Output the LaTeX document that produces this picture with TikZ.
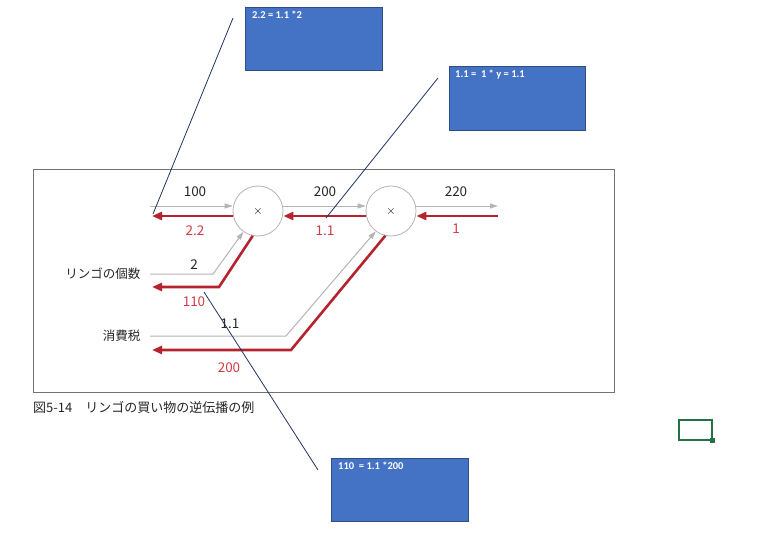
\documentclass[tikz,border=0pt]{standalone}
\usepackage{fontspec}
\setmainfont{Noto Sans CJK JP}
\newfontfamily\boxfont{Carlito}
\usetikzlibrary{arrows.meta}
\definecolor{fwdgray}{HTML}{B4B4B4}
\definecolor{bwdred}{HTML}{B5232E}
\definecolor{lblred}{HTML}{D23B45}
\definecolor{boxblue}{HTML}{4472C4}
\definecolor{boxedge}{HTML}{2F4F80}
\definecolor{navy}{HTML}{1F3464}
\definecolor{xlgreen}{HTML}{217346}
\tikzset{
  mulnode/.style={circle, draw=fwdgray, line width=0.8pt, minimum size=50pt, inner sep=0pt, font=\fontsize{13}{13}\selectfont},
  fwd/.style={draw=fwdgray, line width=1pt, -{Triangle[length=8pt,width=5pt,fill=fwdgray]}},
  bwd/.style={draw=bwdred, line width=2.6pt, -{Triangle[length=10pt,width=8pt,fill=bwdred]}},
  fwdlbl/.style={font=\fontsize{13.5}{14}\selectfont, text=black!85},
  bwdlbl/.style={font=\fontsize{13.5}{14}\selectfont, text=lblred},
  inlbl/.style={font=\fontsize{12.5}{13}\selectfont, text=black!85, anchor=east},
  notebox/.style={draw=boxedge, fill=boxblue, line width=0.8pt},
  notetext/.style={font=\boxfont\bfseries\fontsize{10.5}{11}\selectfont, text=white, anchor=north west, inner sep=0pt},
  pointer/.style={draw=navy, line width=0.8pt},
}
\begin{document}
\begin{tikzpicture}[x=1pt,y=-1pt]
\useasboundingbox (0,0) rectangle (772,543);
% frame
\draw[draw=black!55, line width=0.8pt] (33,169) rectangle (614,392);
% multiply nodes
\node[mulnode] (c1) at (258,211) {$\times$};
\node[mulnode] (c2) at (391,211) {$\times$};
% coordinates
\coordinate (in1) at (150,206);
\coordinate (out1) at (152,216);
\coordinate (out2) at (498,206);
\coordinate (in2) at (498,216);
\coordinate (a1) at (150,274);
\coordinate (a2) at (213,274);
\coordinate (b1) at (152,287);
\coordinate (b2) at (219,287);
\coordinate (t1) at (150,336);
\coordinate (t2) at (286,336);
\coordinate (u1) at (152,350);
\coordinate (u2) at (291,350);
% forward arrows
\draw[fwd] (in1) -- (c1.west |- in1);
\draw[fwd] (c1.east |- in1) -- (c2.west |- in1);
\draw[fwd] (c2.east |- in1) -- (out2);
\draw[fwd] (a1) -- (a2) -- (c1.235);
\draw[fwd] (t1) -- (t2) -- (c2.233);
% backward arrows
\draw[bwd] (c1.west |- out1) -- (out1);
\draw[bwd] (c2.west |- out1) -- (c1.east |- out1);
\draw[bwd] (in2) -- (c2.east |- in2);
\draw[bwd] (c1.258) -- (b2) -- (b1);
\draw[bwd] (c2.257) -- (u2) -- (u1);
% labels
\node[fwdlbl] (l100) at (195,192) {100};
\node[fwdlbl] (l200) at (325,192) {200};
\node[fwdlbl] (l220) at (456,192) {220};
\node[bwdlbl] (l22) at (195,231) {2.2};
\node[bwdlbl] (l11) at (325,231) {1.1};
\node[bwdlbl] (l1) at (456,229) {1};
\node[fwdlbl] (l2) at (194,265) {2};
\node[bwdlbl] (l110) at (194,302) {110};
\node[fwdlbl] (lt) at (230,324) {1.1};
\node[bwdlbl] (l200b) at (229,368) {200};
\node[inlbl] (napple) at (144,274) {リンゴの個数};
\node[inlbl] (ntax) at (144,336) {消費税};
% caption
\node[anchor=west, font=\fontsize{13}{14}\selectfont, text=black!85, inner sep=0pt] (cap) at (33,407) {図5-14\hspace{1em}リンゴの買い物の逆伝播の例};
% note boxes
\draw[notebox] (245,7) rectangle (382,70);
\node[notetext] (n1) at (252,11) {2.2 = 1.1 *2};
\draw[notebox] (449,66) rectangle (585,130);
\node[notetext] (n2) at (455,70) {1.1 =\ \ 1 * y = 1.1};
\draw[notebox] (331,458) rectangle (468,521);
\node[notetext] (n3) at (338,462) {110\ \ = 1.1 *200};
% pointer lines
\coordinate (p1a) at (233,18);
\coordinate (p1b) at (153,214);
\coordinate (p2a) at (438,78);
\coordinate (p2b) at (326,218);
\coordinate (p3a) at (204,292);
\coordinate (p3b) at (318,470);
\draw[pointer] (p1a) -- (p1b);
\draw[pointer] (p2a) -- (p2b);
\draw[pointer] (p3a) -- (p3b);
% green cell marker
\draw[draw=xlgreen, line width=1.8pt] (679,420) rectangle (712,440);
\fill[xlgreen] (710,438) rectangle (715,443);
\end{tikzpicture}
\end{document}
